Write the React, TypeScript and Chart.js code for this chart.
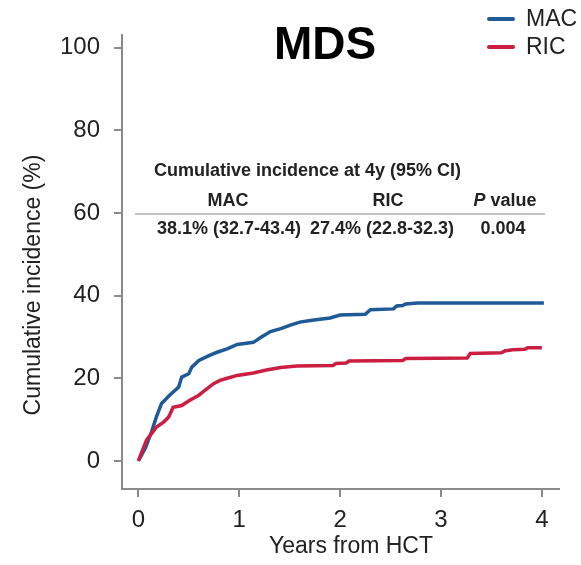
import React, { useEffect, useRef } from "react";
import { Chart, registerables } from "chart.js";

Chart.register(...registerables);

// ---- Data ----
const macYears = [0, 0.07, 0.13, 0.18, 0.23, 0.31, 0.4, 0.43, 0.5, 0.53, 0.6, 0.7, 0.78, 0.88, 0.98, 1.14, 1.22, 1.31, 1.42, 1.5, 1.6, 1.74, 1.9, 2.0, 2.25, 2.3, 2.53, 2.56, 2.62, 2.65, 2.77, 4.02];
const macIncidence = [0, 3.1, 7.0, 10.7, 13.9, 15.9, 17.9, 20.3, 21.1, 22.7, 24.3, 25.5, 26.3, 27.1, 28.2, 28.7, 30.0, 31.3, 32.1, 32.8, 33.6, 34.1, 34.6, 35.3, 35.5, 36.6, 36.8, 37.5, 37.6, 38.0, 38.2, 38.2];
const ricYears = [0, 0.08, 0.13, 0.18, 0.25, 0.3, 0.345, 0.43, 0.51, 0.6, 0.66, 0.745, 0.81, 0.88, 0.98, 1.14, 1.27, 1.41, 1.57, 1.93, 1.96, 2.06, 2.09, 2.62, 2.65, 3.26, 3.29, 3.6, 3.63, 3.71, 3.83, 3.86, 4.0];
const ricIncidence = [0, 5.0, 6.6, 8.2, 9.4, 10.6, 13.0, 13.4, 14.7, 15.9, 17.1, 18.7, 19.5, 20.0, 20.7, 21.3, 22.0, 22.6, 23.0, 23.1, 23.6, 23.7, 24.2, 24.3, 24.8, 24.9, 26.0, 26.2, 26.6, 26.9, 27.0, 27.4, 27.4];

const xTickValues = [0, 1, 2, 3, 4];
const yTickValues = [0, 20, 40, 60, 80, 100];
const seriesNames = ["MAC", "RIC"];
const seriesColors = ["#1e5a96", "#cc1e42"];

const chartTitle = "MDS";
const xAxisTitle = "Years from HCT";
const yAxisTitle = "Cumulative incidence (%)";
const tableTitle = "Cumulative incidence at 4y (95% CI)";
const tableHeaders = ["MAC", "RIC", "value"];
const tableValues = ["38.1% (32.7-43.4)", "27.4% (22.8-32.3)", "0.004"];

const FONT = "'Liberation Sans', Arial, Helvetica, sans-serif";
const TEXT = "#222222";
const AXIS = "#8a8a8a";

const overlayPlugin = {
  id: "overlay",
  afterDraw(chart: any) {
    const ctx = chart.ctx as CanvasRenderingContext2D;
    ctx.save();
    ctx.fillStyle = TEXT;
    ctx.textBaseline = "middle";

    // Title
    ctx.font = `bold 46px ${FONT}`;
    ctx.textAlign = "center";
    ctx.fillStyle = "#000";
    ctx.fillText(chartTitle, 325, 46);

    // Legend
    ctx.lineWidth = 4;
    ctx.lineCap = "round";
    seriesNames.forEach((name, i) => {
      const y = 19 + i * 28;
      ctx.strokeStyle = seriesColors[i];
      ctx.beginPath();
      ctx.moveTo(489, y);
      ctx.lineTo(513, y);
      ctx.stroke();
      ctx.fillStyle = TEXT;
      ctx.font = `23px ${FONT}`;
      ctx.textAlign = "left";
      ctx.fillText(name, 526, y + 1);
    });

    // Axis titles
    ctx.fillStyle = TEXT;
    ctx.font = `23px ${FONT}`;
    ctx.textAlign = "center";
    ctx.fillText(xAxisTitle, 351, 547);
    ctx.save();
    ctx.translate(34, 285);
    ctx.rotate(-Math.PI / 2);
    ctx.fillText(yAxisTitle, 0, 0);
    ctx.restore();

    // Table
    ctx.fillStyle = TEXT;
    ctx.font = `bold 18px ${FONT}`;
    ctx.textAlign = "left";
    ctx.fillText(tableTitle, 154, 171);
    ctx.textAlign = "center";
    ctx.fillText(tableHeaders[0], 228, 201);
    ctx.fillText(tableHeaders[1], 388, 201);
    // "P value" with italic P
    ctx.font = `italic bold 18px ${FONT}`;
    const pW = ctx.measureText("P").width;
    ctx.font = `bold 18px ${FONT}`;
    const vW = ctx.measureText(" " + tableHeaders[2]).width;
    const startX = 505 - (pW + vW) / 2;
    ctx.textAlign = "left";
    ctx.font = `italic bold 18px ${FONT}`;
    ctx.fillText("P", startX, 201);
    ctx.font = `bold 18px ${FONT}`;
    ctx.fillText(" " + tableHeaders[2], startX + pW, 201);

    ctx.strokeStyle = "#b0b0b0";
    ctx.lineWidth = 1.5;
    ctx.lineCap = "butt";
    ctx.beginPath();
    ctx.moveTo(135, 214);
    ctx.lineTo(545, 214);
    ctx.stroke();

    ctx.textAlign = "left";
    ctx.fillText(tableValues[0], 157, 229);
    ctx.fillText(tableValues[1], 310, 229);
    ctx.textAlign = "center";
    ctx.fillText(tableValues[2], 503, 229);
    ctx.restore();
  },
};

export default function App() {
  const canvasRef = useRef<HTMLCanvasElement | null>(null);

  useEffect(() => {
    const canvas = canvasRef.current;
    if (!canvas) return;
    const macData = macYears.map((x, i) => ({ x, y: macIncidence[i] }));
    const ricData = ricYears.map((x, i) => ({ x, y: ricIncidence[i] }));

    const chart = new Chart(canvas, {
      type: "line",
      data: {
        datasets: [
          {
            label: seriesNames[0],
            data: macData,
            borderColor: seriesColors[0],
            backgroundColor: seriesColors[0],
            borderWidth: 3.5,
            pointRadius: 0,
            tension: 0,
            order: 1,
          },
          {
            label: seriesNames[1],
            data: ricData,
            borderColor: seriesColors[1],
            backgroundColor: seriesColors[1],
            borderWidth: 3.5,
            pointRadius: 0,
            tension: 0,
            order: 0,
          },
        ],
      },
      options: {
        animation: false,
        responsive: false,
        devicePixelRatio: 1,
        parsing: false,
        layout: { padding: { left: 0, right: 22, top: 35, bottom: 0 } },
        plugins: {
          legend: { display: false },
          title: { display: false },
          tooltip: { enabled: false },
        },
        scales: {
          x: {
            type: "linear",
            min: -0.162,
            max: 4.17,
            afterBuildTicks: (s: any) => {
              s.ticks = xTickValues.map((v) => ({ value: v }));
            },
            afterFit: (s: any) => {
              s.height = 76;
            },
            ticks: {
              font: { family: FONT, size: 24 },
              color: TEXT,
              padding: 9,
              maxRotation: 0,
              autoSkip: false,
            },
            grid: {
              drawOnChartArea: false,
              drawTicks: true,
              tickLength: 8,
              color: AXIS,
              lineWidth: 2,
            },
            border: { display: true, color: AXIS, width: 2 },
          },
          y: {
            type: "linear",
            min: -6.8,
            max: 103.1,
            afterBuildTicks: (s: any) => {
              s.ticks = yTickValues.map((v) => ({ value: v }));
            },
            afterFit: (s: any) => {
              s.width = 122;
            },
            ticks: {
              font: { family: FONT, size: 24 },
              color: TEXT,
              padding: 14,
              autoSkip: false,
            },
            grid: {
              drawOnChartArea: false,
              drawTicks: true,
              tickLength: 8,
              color: AXIS,
              lineWidth: 2,
            },
            border: { display: true, color: AXIS, width: 2 },
          },
        },
      },
      plugins: [overlayPlugin],
    });
    return () => chart.destroy();
  }, []);

  return (
    <div style={{ position: "absolute", left: 0, top: 0, width: 581, height: 565, background: "#fff" }}>
      <canvas ref={canvasRef} width={581} height={565} style={{ width: 581, height: 565, display: "block" }} />
    </div>
  );
}
